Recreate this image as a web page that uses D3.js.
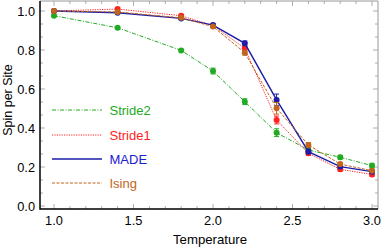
<!DOCTYPE html>
<html>
<head>
<meta charset="utf-8">
<script src="https://cdn.jsdelivr.net/npm/d3@7"></script>
<style>
  body { margin: 0; background: #fff; }
  text { font-family: 'Liberation Sans', Arial, sans-serif; }
</style>
</head>
<body>
<script>
const temps = [1.0, 1.4, 1.8, 2.0, 2.2, 2.4, 2.6, 2.8, 3.0]
const stride2 = [0.976, 0.914, 0.798, 0.692, 0.535, 0.376, 0.287, 0.25, 0.207]
const stride2Err = [0.005, 0.005, 0.006, 0.015, 0.015, 0.02, 0.012, 0.01, 0.012]
const stride1 = [1.0, 1.01, 0.976, 0.925, 0.809, 0.441, 0.27, 0.188, 0.162]
const stride1Err = [0.004, 0.005, 0.006, 0.006, 0.012, 0.02, 0.01, 0.01, 0.01]
const made = [1.0, 0.991, 0.962, 0.928, 0.834, 0.544, 0.279, 0.202, 0.176]
const madeErr = [0.002, 0.003, 0.005, 0.006, 0.012, 0.03, 0.012, 0.008, 0.008]
const ising = [1.0, 0.995, 0.965, 0.92, 0.786, 0.501, 0.313, 0.215, 0.181]
const isingErr = [0.002, 0.003, 0.005, 0.006, 0.012, 0.03, 0.012, 0.008, 0.008]
const xTicks = [1.0, 1.5, 2.0, 2.5, 3.0]
const yTicks = [0.0, 0.2, 0.4, 0.6, 0.8, 1.0]

const series = [
  {name: 'Stride2', vals: stride2, err: stride2Err, color: '#22aa22', dash: '4,1.5,1,1.5', width: 1},
  {name: 'Stride1', vals: stride1, err: stride1Err, color: '#ff2020', dash: '1.2,1.2', width: 1},
  {name: 'MADE', vals: made, err: madeErr, color: '#1c1ca8', dash: null, width: 1.4},
  {name: 'Ising', vals: ising, err: isingErr, color: '#c0661c', dash: '3,1.5', width: 1}
]
const legendColors = {'MADE': '#2020d0'}

const width = 382, height = 249
const pLeft = 40, pRight = 378, pTop = 1, pBottom = 209

const svg = d3.select('body').append('svg')
    .attr('width', width)
    .attr('height', height)

const x = d3.scaleLinear().domain([1.0, 3.0]).range([54, 372])
const y = d3.scaleLinear().domain([0, 1]).range([206, 11])

// minor ticks
const xMinor = d3.range(0.9, 3.05, 0.1).filter(v => x(v) > pLeft + 1 && x(v) < pRight - 1)
const yMinor = d3.range(0, 1.06, 0.2 / 3).filter(v => y(v) > pTop + 1 && y(v) < pBottom - 1)

const ticks = svg.append('g').attr('stroke', '#999').attr('stroke-width', 0.8)
xMinor.forEach(v => {
  const major = xTicks.some(t => Math.abs(t - v) < 1e-6)
  const len = major ? 5 : 3
  ticks.append('line').attr('x1', x(v)).attr('x2', x(v)).attr('y1', pBottom).attr('y2', pBottom - len)
  ticks.append('line').attr('x1', x(v)).attr('x2', x(v)).attr('y1', pTop).attr('y2', pTop + len)
})
yMinor.forEach(v => {
  const major = yTicks.some(t => Math.abs(t - v) < 1e-6)
  const len = major ? 5 : 3
  ticks.append('line').attr('y1', y(v)).attr('y2', y(v)).attr('x1', pLeft).attr('x2', pLeft + len)
  ticks.append('line').attr('y1', y(v)).attr('y2', y(v)).attr('x1', pRight).attr('x2', pRight - len)
})

// frame
svg.append('path')
    .attr('d', `M${pLeft},${pTop}H${pRight}V${pBottom}`)
    .attr('fill', 'none').attr('stroke', '#999').attr('stroke-width', 1)
svg.append('path')
    .attr('d', `M${pLeft},${pTop}V${pBottom}H${pRight}`)
    .attr('fill', 'none').attr('stroke', '#000').attr('stroke-width', 1.5)

// tick labels
svg.selectAll('.xlab').data(xTicks).enter().append('text')
    .attr('x', d => x(d)).attr('y', 224.5)
    .attr('text-anchor', 'middle').attr('font-size', 12.8)
    .text(d => d.toFixed(1))
svg.selectAll('.ylab').data(yTicks).enter().append('text')
    .attr('x', 35).attr('y', d => y(d) + 5)
    .attr('text-anchor', 'end').attr('font-size', 12.8)
    .text(d => d.toFixed(1))

svg.append('text').attr('x', 210).attr('y', 244)
    .attr('text-anchor', 'middle').attr('font-size', 13.2)
    .text('Temperature')
svg.append('text')
    .attr('transform', 'translate(12,100) rotate(-90)')
    .attr('text-anchor', 'middle').attr('font-size', 12.5)
    .text('Spin per Site')

const line = d3.line().x((d, i) => x(temps[i])).y(d => y(d))

series.forEach(s => {
  const g = svg.append('g')
  g.append('path').datum(s.vals)
      .attr('d', line)
      .attr('fill', 'none')
      .attr('stroke', s.color)
      .attr('stroke-width', s.width)
      .attr('stroke-dasharray', s.dash)
  g.selectAll('.err').data(s.vals).enter().append('path')
      .attr('d', (d, i) => {
        const cx = x(temps[i]), y0 = y(d - s.err[i]), y1 = y(d + s.err[i])
        return `M${cx},${y0}V${y1}M${cx - 2.5},${y0}h5M${cx - 2.5},${y1}h5`
      })
      .attr('stroke', s.color).attr('stroke-width', 1).attr('fill', 'none')
  g.selectAll('circle').data(s.vals).enter().append('circle')
      .attr('cx', (d, i) => x(temps[i]))
      .attr('cy', d => y(d))
      .attr('r', 3)
      .attr('fill', s.color)
})

// legend
const legendY = [110, 135, 159, 183]
series.forEach((s, i) => {
  svg.append('line')
      .attr('x1', 52).attr('x2', 102)
      .attr('y1', legendY[i]).attr('y2', legendY[i])
      .attr('stroke', s.color).attr('stroke-width', s.width)
      .attr('stroke-dasharray', s.dash)
  svg.append('text')
      .attr('x', 109.5).attr('y', legendY[i] + 5.2)
      .attr('font-size', 13)
      .attr('fill', legendColors[s.name] || s.color)
      .text(s.name)
})
</script>
</body>
</html>
